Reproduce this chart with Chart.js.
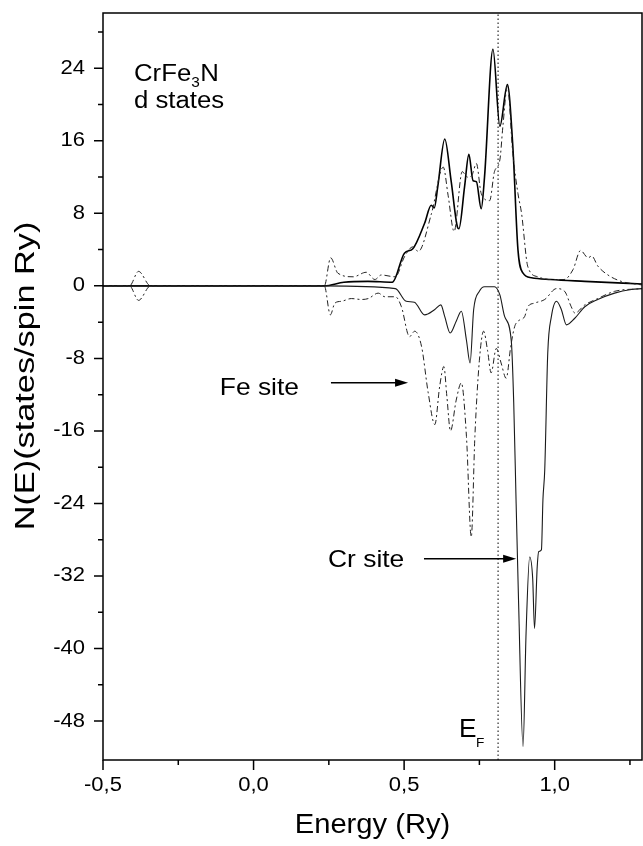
<!DOCTYPE html>
<html>
<head>
<meta charset="utf-8">
<script src="https://cdn.jsdelivr.net/npm/chart.js@4.4.1/dist/chart.umd.min.js"></script>
<style>
  html, body { margin: 0; padding: 0; background: #fff; }
</style>
</head>
<body>
<canvas id="dosChart" width="643" height="846"></canvas>
<script>
// axis ranges and tick labels
const energyMin = -0.5, energyMax = 1.29;
const dosMin = -52.3, dosMax = 30.1;
const xTickValues = [-0.5, 0.0, 0.5, 1.0];
const xTickLabels = ["-0,5", "0,0", "0,5", "1,0"];
const xMinorValues = [-0.25, 0.25, 0.75, 1.25];
const yTickValues = [-48, -40, -32, -24, -16, -8, 0, 8, 16, 24];
const yMinorValues = [-44, -36, -28, -20, -12, -4, 4, 12, 20, 28];
const fermiEnergy = 0.812;

// Fe site, spin up (dash-dot)
const feUpE = [-0.5, -0.412, -0.382, -0.342, 0.235, 0.256, 0.280, 0.331, 0.374, 0.403, 0.424, 0.471, 0.501, 0.529, 0.547,
  0.591, 0.630, 0.646, 0.666, 0.693, 0.710, 0.725, 0.740, 0.756, 0.784, 0.800, 0.818, 0.828, 0.843, 0.861, 0.878,
  0.890, 0.911, 0.944, 0.987, 1.031, 1.061, 1.086, 1.111, 1.123, 1.143, 1.177, 1.221, 1.29];
const feUpN = [0, 0, 1.6, 0, 0, 3.1, 1.4, 1.0, 1.5, 0.7, 1.2, 1.0, 3.2, 4.3, 3.8,
  8.0, 13.1, 10.0, 6.0, 12.6, 12.0, 12.2, 13.5, 10.2, 9.4, 12.6, 13.9, 17.6, 22.0, 14.6, 10.2,
  8.0, 2.1, 1.0, 0.7, 0.7, 1.8, 3.9, 3.1, 3.3, 2.2, 1.2, 0.5, 0.1];

// Cr site, spin up (solid)
const crUpE = [-0.5, 0.235, 0.300, 0.380, 0.461, 0.501, 0.529, 0.568, 0.590, 0.600, 0.612, 0.635, 0.656, 0.677, 0.682,
  0.701, 0.715, 0.729, 0.740, 0.756, 0.767, 0.795, 0.818, 0.843, 0.861, 0.878, 0.895, 0.923, 0.987, 1.100, 1.29];
const crUpN = [0, 0, 0.4, 0.5, 0.4, 3.6, 4.1, 6.9, 8.9, 8.6, 11.0, 16.2, 11.6, 6.5, 6.3,
  11.0, 14.5, 11.6, 11.5, 8.5, 12.0, 26.1, 17.6, 22.2, 15.4, 4.0, 1.4, 0.9, 0.7, 0.5, 0.2];

// Fe site, spin down (dash-dot)
const feDownE = [-0.5, -0.412, -0.382, -0.342, 0.235, 0.255, 0.270, 0.292, 0.325, 0.358, 0.381, 0.414, 0.436, 0.471,
  0.491, 0.518, 0.535, 0.558, 0.580, 0.602, 0.618, 0.632, 0.642, 0.654, 0.673, 0.690, 0.707, 0.723, 0.735, 0.750,
  0.764, 0.777, 0.789, 0.806, 0.822, 0.839, 0.854, 0.867, 0.878, 0.900, 0.911, 0.933, 0.967, 1.006, 1.033, 1.055,
  1.067, 1.100, 1.143, 1.199, 1.29];
const feDownN = [0, 0, -1.6, 0, 0, -3.2, -1.9, -1.7, -1.4, -1.5, -1.4, -0.8, -1.2, -1.2,
  -2.3, -5.6, -5.0, -6.7, -11.8, -15.3, -11.1, -8.9, -12.2, -16.0, -12.6, -10.7, -16.6, -27.7, -16.6, -8.2,
  -5.0, -7.1, -9.6, -6.9, -8.5, -10.2, -6.7, -4.5, -3.9, -3.4, -2.3, -1.9, -1.5, -0.3, -0.6, -2.3,
  -3.0, -2.1, -1.4, -0.6, -0.3];

// Cr site, spin down (solid)
const crDownE = [-0.5, 0.235, 0.471, 0.507, 0.534, 0.568, 0.602, 0.622, 0.635, 0.653, 0.673, 0.690, 0.707, 0.719,
  0.731, 0.750, 0.767, 0.800, 0.818, 0.834, 0.856, 0.864, 0.872, 0.880, 0.895, 0.905, 0.917, 0.927, 0.933, 0.942,
  0.947, 0.956, 0.961, 0.967, 0.977, 0.989, 1.006, 1.022, 1.039, 1.066, 1.100, 1.143, 1.199, 1.255, 1.29];
const crDownN = [0, 0, -0.3, -1.7, -1.8, -3.2, -2.6, -2.1, -3.4, -5.2, -3.9, -2.8, -6.0, -8.5,
  -2.6, -0.6, -0.1, -0.1, -1.0, -3.4, -6.1, -12.9, -24.0, -34.7, -50.8, -38.3, -29.9, -32.3, -37.8, -31.0,
  -29.3, -29.1, -23.6, -20.3, -7.4, -3.4, -1.7, -2.6, -4.3, -3.6, -2.3, -1.5, -0.8, -0.4, -0.3];

const toPoints = (xs, ys) => xs.map((x, i) => ({ x: x, y: ys[i] }));

const TEXT_FONT = '"Liberation Sans", Arial, sans-serif';

// draw text a little wider than the font, like the scanned figure
function wideText(ctx, text, x, y, size, align, sx) {
  ctx.save();
  ctx.font = size + "px " + TEXT_FONT;
  ctx.translate(x, y);
  ctx.scale(sx, 1);
  ctx.textAlign = align;
  ctx.fillText(text, 0, 0);
  ctx.restore();
}

function arrow(ctx, x1, y, x2) {
  ctx.save();
  ctx.strokeStyle = "#000";
  ctx.fillStyle = "#000";
  ctx.lineWidth = 1.5;
  ctx.beginPath();
  ctx.moveTo(x1, y);
  ctx.lineTo(x2 - 10, y);
  ctx.stroke();
  ctx.beginPath();
  ctx.moveTo(x2, y);
  ctx.lineTo(x2 - 13, y - 4);
  ctx.lineTo(x2 - 13, y + 4);
  ctx.closePath();
  ctx.fill();
  ctx.restore();
}

const decorations = {
  id: "decorations",
  beforeDraw(chart) {
    const ctx = chart.ctx;
    ctx.save();
    ctx.fillStyle = "#fff";
    ctx.fillRect(0, 0, chart.width, chart.height);
    ctx.restore();
  },
  afterDraw(chart) {
    const ctx = chart.ctx;
    const area = chart.chartArea;
    const xs = chart.scales.x, ys = chart.scales.y;
    ctx.save();
    ctx.strokeStyle = "#000";
    ctx.fillStyle = "#000";
    ctx.lineWidth = 1.5;
    ctx.strokeRect(area.left, area.top, area.right - area.left, area.bottom - area.top);

    // ticks, outside the frame
    ctx.beginPath();
    xTickValues.forEach(v => { const px = xs.getPixelForValue(v); ctx.moveTo(px, area.bottom); ctx.lineTo(px, area.bottom + 10); });
    xMinorValues.forEach(v => { const px = xs.getPixelForValue(v); ctx.moveTo(px, area.bottom); ctx.lineTo(px, area.bottom + 5); });
    yTickValues.forEach(v => { const py = ys.getPixelForValue(v); ctx.moveTo(area.left, py); ctx.lineTo(area.left - 9, py); });
    yMinorValues.forEach(v => { const py = ys.getPixelForValue(v); ctx.moveTo(area.left, py); ctx.lineTo(area.left - 5, py); });
    ctx.stroke();

    // tick labels
    ctx.textBaseline = "middle";
    xTickValues.forEach((v, i) => wideText(ctx, xTickLabels[i], xs.getPixelForValue(v), area.bottom + 25, 20, "center", 1.1));
    yTickValues.forEach(v => wideText(ctx, String(v), area.left - 18, ys.getPixelForValue(v), 20, "right", 1.1));

    // axis titles
    wideText(ctx, "Energy (Ry)", (area.left + area.right) / 2, 826, 27, "center", 1.08);
    ctx.save();
    ctx.translate(27, 376);
    ctx.rotate(-Math.PI / 2);
    wideText(ctx, "N(E)(states/spin Ry)", 0, 0, 27, "center", 1.27);
    ctx.restore();

    // labels inside the plot
    ctx.textBaseline = "alphabetic";
    const lx = area.left + 31;
    wideText(ctx, "CrFe", lx, 81, 23, "left", 1.12);
    ctx.font = "23px " + TEXT_FONT;
    const crfeW = ctx.measureText("CrFe").width * 1.12;
    wideText(ctx, "3", lx + crfeW, 87, 14, "left", 1.1);
    wideText(ctx, "N", lx + crfeW + 9, 81, 23, "left", 1.12);
    wideText(ctx, "d states", lx, 108, 23, "left", 1.12);

    wideText(ctx, "Fe site", 299, 395, 24, "right", 1.1);
    wideText(ctx, "Cr site", 328, 567, 24, "left", 1.1);
    const feArrowY = ys.getPixelForValue(-10.7);
    arrow(ctx, xs.getPixelForValue(0.257), feArrowY, xs.getPixelForValue(0.513));
    const crArrowY = ys.getPixelForValue(-30.1);
    arrow(ctx, xs.getPixelForValue(0.566), crArrowY, xs.getPixelForValue(0.872));

    const efx = xs.getPixelForValue(fermiEnergy);
    wideText(ctx, "E", efx - 39, 737, 25, "left", 1.05);
    wideText(ctx, "F", efx - 22, 747, 13, "left", 1.05);
    ctx.restore();
  }
};

const lineBase = { pointRadius: 0, fill: false, cubicInterpolationMode: "monotone", borderColor: "#000" };

new Chart(document.getElementById("dosChart"), {
  type: "line",
  data: {
    datasets: [
      { ...lineBase, label: "Fe up", data: toPoints(feUpE, feUpN), borderWidth: 1, borderDash: [6, 3, 2, 3], borderColor: "#222" },
      { ...lineBase, label: "Fe down", data: toPoints(feDownE, feDownN), borderWidth: 1, borderDash: [6, 3, 2, 3], borderColor: "#222" },
      { ...lineBase, label: "Cr down", data: toPoints(crDownE, crDownN), borderWidth: 1.1, borderColor: "#1a1a1a" },
      { ...lineBase, label: "Cr up", data: toPoints(crUpE, crUpN), borderWidth: 1.6 },
      { ...lineBase, label: "E_F", data: [{ x: fermiEnergy, y: dosMin }, { x: fermiEnergy, y: dosMax }],
        borderWidth: 1, borderDash: [1.5, 2.5], cubicInterpolationMode: "default" }
    ]
  },
  options: {
    responsive: false,
    devicePixelRatio: 1,
    animation: false,
    layout: { padding: { top: 13, right: 1, left: 0, bottom: 0 } },
    plugins: { legend: { display: false }, tooltip: { enabled: false } },
    scales: {
      x: {
        type: "linear",
        min: energyMin,
        max: energyMax,
        grid: { display: false },
        border: { display: false },
        ticks: { display: false },
        afterFit: s => { s.height = 86; }
      },
      y: {
        type: "linear",
        min: dosMin,
        max: dosMax,
        grid: { display: false },
        border: { display: false },
        ticks: { display: false },
        afterFit: s => { s.width = 103; }
      }
    }
  },
  plugins: [decorations]
});
</script>
</body>
</html>
